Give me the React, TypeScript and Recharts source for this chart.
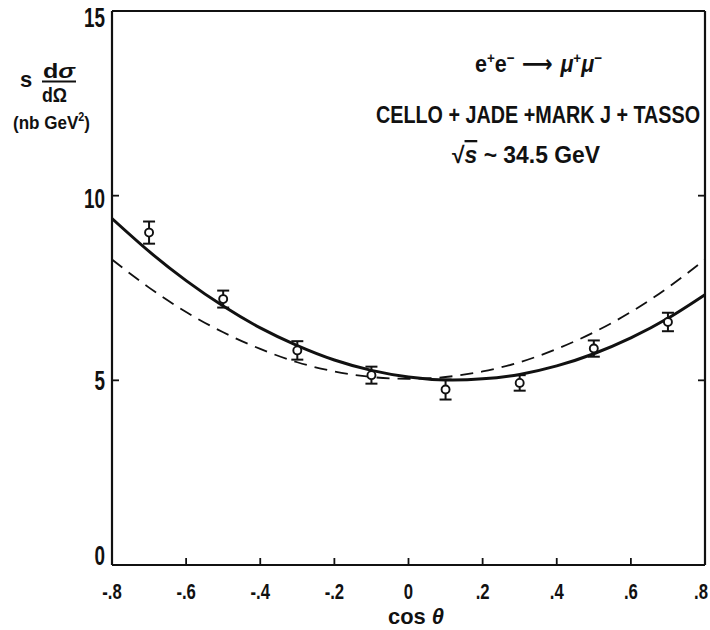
import React from "react";
import { ComposedChart, Line, Scatter, ErrorBar, XAxis, YAxis } from "recharts";

// measured points with errors
const cosTheta = [-0.7, -0.5, -0.3, -0.1, 0.1, 0.3, 0.5, 0.7];
const measured = [9.0, 7.2, 5.81, 5.14, 4.75, 4.93, 5.86, 6.58];
const measuredErr = [0.3, 0.23, 0.25, 0.23, 0.27, 0.21, 0.22, 0.25];

// curves sampled along cos theta
const curveCos = [-0.8, -0.7, -0.6, -0.5, -0.4, -0.3, -0.2, -0.1, 0, 0.1, 0.2, 0.3, 0.4, 0.5, 0.6, 0.7, 0.8];
const fitCurve = [9.38, 8.49, 7.7, 7.01, 6.42, 5.94, 5.55, 5.27, 5.09, 5.01, 5.04, 5.16, 5.39, 5.72, 6.15, 6.68, 7.32];
const qedCurve = [8.27, 7.51, 6.85, 6.3, 5.85, 5.49, 5.24, 5.09, 5.04, 5.09, 5.24, 5.49, 5.85, 6.3, 6.85, 7.51, 8.27];

const xTicks = [-0.8, -0.6, -0.4, -0.2, 0, 0.2, 0.4, 0.6, 0.8];
const yTicks = [0, 5, 10, 15];

const points = cosTheta.map((x, i) => ({ x, y: measured[i], err: measuredErr[i] }));
const fitData = curveCos.map((x, i) => ({ x, y: fitCurve[i] }));
const qedData = curveCos.map((x, i) => ({ x, y: qedCurve[i] }));

const INK = "#111";
const FONT = "'Liberation Sans', Arial, sans-serif";

const fmtCos = (v: number) =>
  v === 0 ? "0" : `${v < 0 ? "-" : ""}.${Math.round(Math.abs(v) * 10)}`;

const XTick = (p: any) => {
  const v = p.payload.value;
  // keep the last label inside the frame
  const shift = v === 0.8 ? -4 : 0;
  return (
    <g transform={`translate(${p.x + shift},${p.y})`}>
      <text
        transform="scale(0.76,1)"
        textAnchor="middle"
        dy={34}
        fontFamily={FONT}
        fontWeight="bold"
        fontSize={22}
        fill={INK}
      >
        {fmtCos(v)}
      </text>
    </g>
  );
};

const YTick = (p: any) => {
  const v = p.payload.value;
  const nudge = v === 15 ? 6 : v === 0 ? -10 : v === 10 ? 2 : 0;
  return (
    <g transform={`translate(${p.x},${p.y})`}>
      <text
        transform="scale(0.7,1)"
        textAnchor="end"
        dy={10 + nudge}
        fontFamily={FONT}
        fontWeight="bold"
        fontSize={27}
        fill={INK}
      >
        {v}
      </text>
    </g>
  );
};

const Blank = () => <g />;

const Dot = (p: any) => (
  <circle cx={p.cx} cy={p.cy} r={4} fill="#fff" stroke={INK} strokeWidth={1.9} />
);

const txt = { fontFamily: FONT, fontWeight: "bold" as const, fill: INK };

export default function App() {
  return (
    <div style={{ position: "absolute", left: 0, top: 0, background: "#fff" }}>
      <ComposedChart
        width={710}
        height={630}
        margin={{ top: 11, right: 5, bottom: 5, left: 0 }}
      >
        <XAxis
          xAxisId="b"
          dataKey="x"
          type="number"
          domain={[-0.8, 0.8]}
          ticks={xTicks}
          interval={0}
          allowDataOverflow
          height={60}
          tickSize={-7}
          tickMargin={7}
          axisLine={{ stroke: INK, strokeWidth: 2.2 }}
          tickLine={{ stroke: INK, strokeWidth: 1.8 }}
          tick={<XTick />}
        />
        <XAxis
          xAxisId="t"
          orientation="top"
          mirror
          type="number"
          domain={[-0.8, 0.8]}
          ticks={xTicks}
          interval={0}
          allowDataOverflow
          tickSize={7}
          axisLine={{ stroke: INK, strokeWidth: 2.2 }}
          tickLine={{ stroke: INK, strokeWidth: 1.8 }}
          tick={<Blank />}
        />
        <YAxis
          yAxisId="l"
          type="number"
          domain={[0, 15]}
          ticks={yTicks}
          interval={0}
          allowDataOverflow
          width={112}
          tickSize={-7}
          tickMargin={14}
          axisLine={{ stroke: INK, strokeWidth: 2.2 }}
          tickLine={{ stroke: INK, strokeWidth: 1.8 }}
          tick={<YTick />}
        />
        <YAxis
          yAxisId="r"
          orientation="right"
          mirror
          type="number"
          domain={[0, 15]}
          ticks={yTicks}
          interval={0}
          allowDataOverflow
          tickSize={7}
          axisLine={{ stroke: INK, strokeWidth: 2.2 }}
          tickLine={{ stroke: INK, strokeWidth: 1.8 }}
          tick={<Blank />}
        />

        <Line
          xAxisId="b"
          yAxisId="l"
          data={qedData}
          dataKey="y"
          type="natural"
          stroke={INK}
          strokeWidth={1.8}
          strokeDasharray="13 8"
          dot={false}
          activeDot={false}
          isAnimationActive={false}
        />
        <Line
          xAxisId="b"
          yAxisId="l"
          data={fitData}
          dataKey="y"
          type="natural"
          stroke={INK}
          strokeWidth={3}
          dot={false}
          activeDot={false}
          isAnimationActive={false}
        />
        <Scatter
          xAxisId="b"
          yAxisId="l"
          data={points}
          dataKey="y"
          shape={<Dot />}
          isAnimationActive={false}
        >
          <ErrorBar dataKey="err" direction="y" width={6} stroke={INK} strokeWidth={2} />
        </Scatter>

        {/* axis titles */}
        <g>
          <text x={20} y={87} fontSize={22} {...txt}>s</text>
          <text x={43} y={78} fontSize={21} textLength={32} lengthAdjust="spacingAndGlyphs" {...txt}>
            d<tspan fontStyle="italic">σ</tspan>
          </text>
          <line x1={42} x2={76} y1={81.5} y2={81.5} stroke={INK} strokeWidth={2} />
          <text x={42} y={102} fontSize={21} textLength={25} lengthAdjust="spacingAndGlyphs" {...txt}>
            dΩ
          </text>
          <text x={13} y={129} fontSize={19} textLength={77} lengthAdjust="spacingAndGlyphs" {...txt}>
            (nb GeV<tspan dy={-8} fontSize={12}>2</tspan><tspan dy={8}>)</tspan>
          </text>
        </g>
        <text x={388} y={624} fontSize={22} textLength={56} lengthAdjust="spacingAndGlyphs" {...txt}>
          cos <tspan fontStyle="italic">θ</tspan>
        </text>

        {/* reaction and data-set annotation */}
        <text x={475} y={72} fontSize={24} textLength={127} lengthAdjust="spacingAndGlyphs" {...txt}>
          e<tspan dy={-9} fontSize={15}>+</tspan>
          <tspan dy={9}>e</tspan>
          <tspan dy={-9} fontSize={15}>−</tspan>
          <tspan dy={9} fontFamily="'DejaVu Sans', sans-serif"> ⟶ </tspan>
          <tspan fontStyle="italic">μ</tspan>
          <tspan dy={-9} fontSize={15}>+</tspan>
          <tspan dy={9} fontStyle="italic">μ</tspan>
          <tspan dy={-9} fontSize={15}>−</tspan>
        </text>
        <text x={376} y={123} fontSize={23} textLength={324} lengthAdjust="spacingAndGlyphs" {...txt}>
          CELLO + JADE +MARK J + TASSO
        </text>
        <text x={452} y={163} fontSize={23} textLength={148} lengthAdjust="spacingAndGlyphs" {...txt}>
          √<tspan fontStyle="italic" textDecoration="overline">s</tspan>  ~  34.5  GeV
        </text>
      </ComposedChart>
    </div>
  );
}
